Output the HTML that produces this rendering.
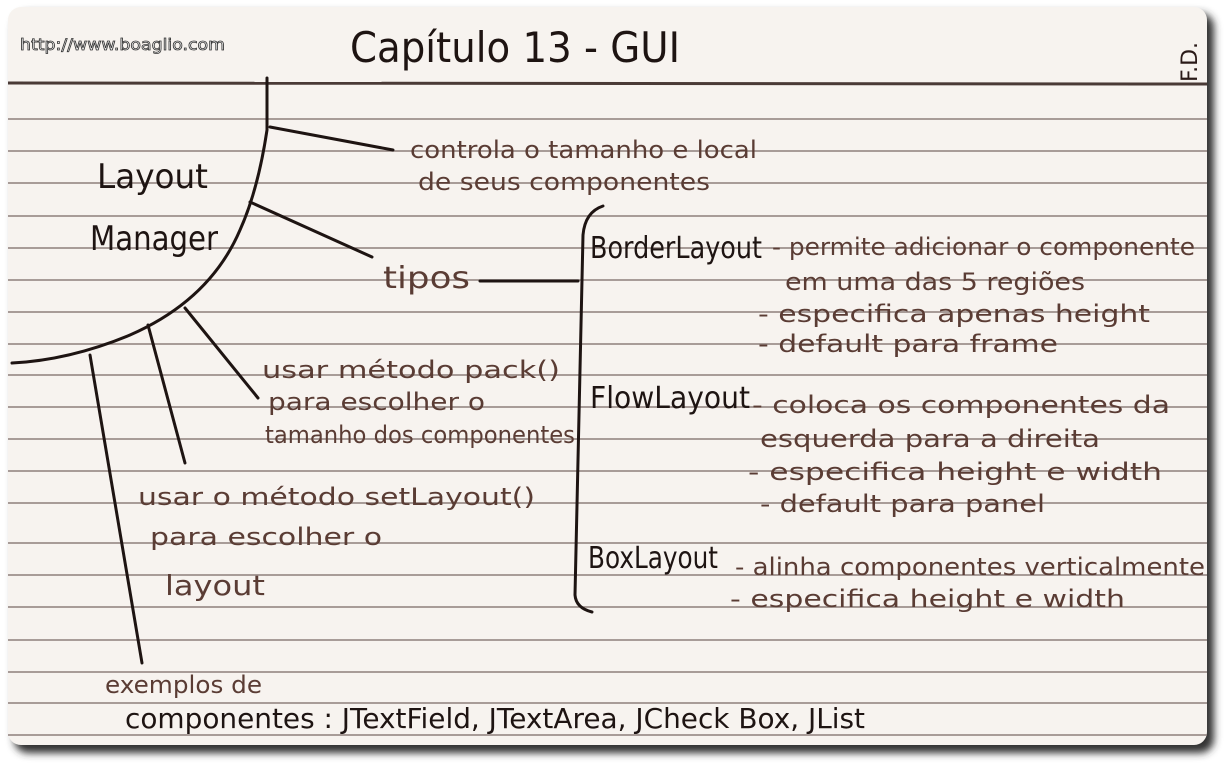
<!DOCTYPE html>
<html><head><meta charset="utf-8"><style>
html,body{margin:0;padding:0;background:#fff;}
svg{display:block}
text{font-family:"DejaVu Sans","Liberation Sans",sans-serif;}
</style></head><body>
<svg width="1230" height="769" viewBox="0 0 1230 769" xmlns="http://www.w3.org/2000/svg">
<defs><filter id="sh" x="-5%" y="-5%" width="110%" height="110%"><feGaussianBlur stdDeviation="4"/></filter></defs>
<rect x="14" y="13" width="1200" height="740" rx="14" fill="#333" filter="url(#sh)"/>
<rect x="8" y="7" width="1199" height="738" rx="13" fill="#f7f3ef"/>
<g stroke="#8e807c" stroke-width="1.4">
<line x1="8" y1="119" x2="1207" y2="119"/><line x1="8" y1="151" x2="1207" y2="151"/>
<line x1="8" y1="183" x2="1207" y2="183"/><line x1="8" y1="216" x2="1207" y2="216"/>
<line x1="8" y1="248" x2="1207" y2="248"/><line x1="8" y1="280" x2="1207" y2="280"/>
<line x1="8" y1="312" x2="1207" y2="312"/><line x1="8" y1="344" x2="1207" y2="344"/>
<line x1="8" y1="375" x2="1207" y2="375"/><line x1="8" y1="407" x2="1207" y2="407"/>
<line x1="8" y1="439" x2="1207" y2="439"/><line x1="8" y1="471" x2="1207" y2="471"/>
<line x1="8" y1="503" x2="1207" y2="503"/><line x1="8" y1="543" x2="1207" y2="543"/>
<line x1="8" y1="575" x2="1207" y2="575"/><line x1="8" y1="607" x2="1207" y2="607"/>
<line x1="8" y1="640" x2="1207" y2="640"/><line x1="8" y1="672" x2="1207" y2="672"/>
<line x1="8" y1="703" x2="1207" y2="703"/><line x1="8" y1="735" x2="1207" y2="735"/>
</g>
<line x1="8" y1="83" x2="1207" y2="84" stroke="#4a3a36" stroke-width="3"/>
<g stroke="#1e1412" stroke-width="3" fill="none" stroke-linecap="round">
<path d="M267,78 L267,130 Q258,190 240,230 Q210,300 130,335 Q70,360 12,363"/>
<line x1="270" y1="127" x2="393" y2="150"/>
<line x1="250" y1="202" x2="372" y2="257"/>
<line x1="185" y1="308" x2="258" y2="398"/>
<line x1="148" y1="325" x2="185" y2="463"/>
<line x1="90" y1="355" x2="142" y2="663"/>
<line x1="480" y1="281" x2="578" y2="281"/>
<path d="M603,206 Q585,212 583,235 L575,595 Q576,608 592,612"/>
</g>
<text x="20" y="50" font-size="16" fill="#fff" stroke="#333" stroke-width="0.8" textLength="205" lengthAdjust="spacingAndGlyphs" font-family="Liberation Sans">http://www.boaglio.com</text>
<text x="350" y="62" font-size="42" fill="#1e1412" textLength="330" lengthAdjust="spacingAndGlyphs">Capítulo 13 - GUI</text>
<text transform="translate(1197,82) rotate(-90)" font-size="22" fill="#2a1a18">F.D.</text>
<g fill="#1e1412">
<text x="97" y="188" font-size="34" textLength="111" lengthAdjust="spacingAndGlyphs">Layout</text>
<text x="90" y="250" font-size="34" textLength="128" lengthAdjust="spacingAndGlyphs">Manager</text>
<text x="590" y="258" font-size="30" textLength="172" lengthAdjust="spacingAndGlyphs">BorderLayout</text>
<text x="590" y="408" font-size="30" textLength="160" lengthAdjust="spacingAndGlyphs">FlowLayout</text>
<text x="588" y="568" font-size="30" textLength="130" lengthAdjust="spacingAndGlyphs">BoxLayout</text>
<text x="125" y="728" font-size="28" textLength="740" lengthAdjust="spacingAndGlyphs">componentes : JTextField, JTextArea, JCheck Box, JList</text>
</g>
<g fill="#5a3c34" font-size="24">
<text x="410" y="158" textLength="347" lengthAdjust="spacingAndGlyphs">controla o tamanho e local</text>
<text x="418" y="190" textLength="292" lengthAdjust="spacingAndGlyphs">de seus componentes</text>
<text x="383" y="288" font-size="30" textLength="87" lengthAdjust="spacingAndGlyphs">tipos</text>
<text x="772" y="255" textLength="423" lengthAdjust="spacingAndGlyphs">- permite adicionar o componente</text>
<text x="785" y="290" textLength="300" lengthAdjust="spacingAndGlyphs">em uma das 5 regiões</text>
<text x="758" y="322" textLength="392" lengthAdjust="spacingAndGlyphs">- especifica apenas height</text>
<text x="758" y="352" textLength="300" lengthAdjust="spacingAndGlyphs">- default para frame</text>
<text x="752" y="413" textLength="418" lengthAdjust="spacingAndGlyphs">- coloca os componentes da</text>
<text x="760" y="447" textLength="340" lengthAdjust="spacingAndGlyphs">esquerda para a direita</text>
<text x="748" y="480" textLength="414" lengthAdjust="spacingAndGlyphs">- especifica height e width</text>
<text x="760" y="512" textLength="285" lengthAdjust="spacingAndGlyphs">- default para panel</text>
<text x="735" y="575" textLength="470" lengthAdjust="spacingAndGlyphs">- alinha componentes verticalmente</text>
<text x="730" y="607" textLength="395" lengthAdjust="spacingAndGlyphs">- especifica height e width</text>
<text x="262" y="378" textLength="298" lengthAdjust="spacingAndGlyphs">usar método pack()</text>
<text x="268" y="410" textLength="217" lengthAdjust="spacingAndGlyphs">para escolher o</text>
<text x="265" y="443" textLength="310" lengthAdjust="spacingAndGlyphs">tamanho dos componentes</text>
<text x="138" y="505" textLength="397" lengthAdjust="spacingAndGlyphs">usar o método setLayout()</text>
<text x="150" y="545" textLength="232" lengthAdjust="spacingAndGlyphs">para escolher o</text>
<text x="165" y="595" font-size="28" textLength="100" lengthAdjust="spacingAndGlyphs">layout</text>
<text x="105" y="693" textLength="157" lengthAdjust="spacingAndGlyphs">exemplos de</text>
</g>
</svg>
</body></html>
